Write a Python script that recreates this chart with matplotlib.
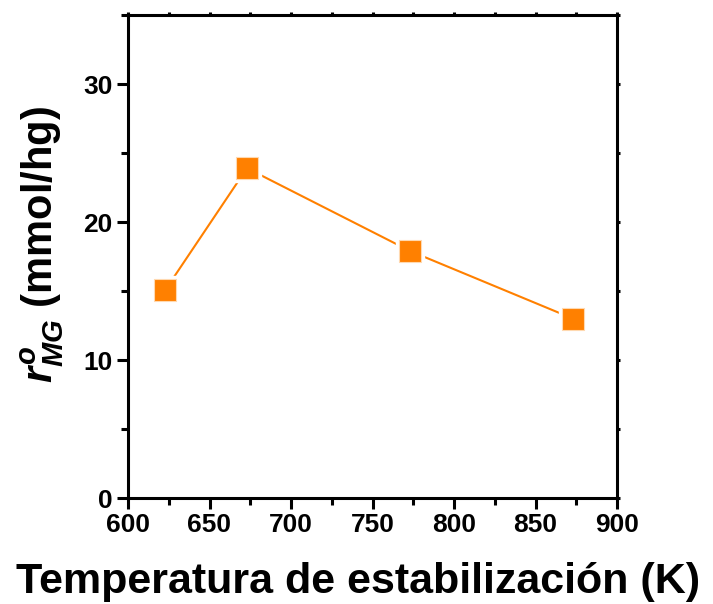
import matplotlib
matplotlib.use("Agg")
import matplotlib.pyplot as plt
from matplotlib.ticker import MultipleLocator

temps = [623, 673, 773, 873]
rates = [15.1, 23.9, 17.9, 13.0]
xticks = [600, 650, 700, 750, 800, 850, 900]
yticks = [0, 10, 20, 30]

plt.rcParams['font.family'] = ['Liberation Sans', 'DejaVu Sans']
plt.rcParams['font.weight'] = 'bold'
plt.rcParams['mathtext.fontset'] = 'custom'
plt.rcParams['mathtext.rm'] = 'Liberation Sans:bold'
plt.rcParams['mathtext.it'] = 'Liberation Sans:bold:italic'
plt.rcParams['mathtext.bf'] = 'Liberation Sans:bold'
plt.rcParams['mathtext.sf'] = 'Liberation Sans:italic'

fig = plt.figure(figsize=(7.13, 6.04), dpi=100)
ax = fig.add_axes([128/713, 106/604, (617-128)/713, (498-15)/604])

color = '#FF8000'
ax.plot(temps, rates, '-', color=color, lw=1.5, zorder=2)
ax.plot(temps, rates, 's', color='white', ms=20, mec='white', zorder=3, clip_on=False)
ax.plot(temps, rates, 's', color=color, ms=15.5, mec='#FFD9B0', mew=0.8, zorder=4, clip_on=False)

ax.set_xlim(600, 900)
ax.set_ylim(0, 35)
ax.set_xticks(xticks)
ax.set_yticks(yticks)
ax.xaxis.set_minor_locator(MultipleLocator(25))
ax.yaxis.set_minor_locator(MultipleLocator(5))

for s in ax.spines.values():
    s.set_linewidth(2.2)
ax.tick_params(which='major', direction='out', length=8, width=2.2, labelsize=19, pad=3)
ax.tick_params(which='minor', direction='out', length=5, width=2.2)
ax.tick_params(top=True, right=True, which='both')
for t in ax.xaxis.get_major_ticks() + ax.xaxis.get_minor_ticks():
    t.tick2line.set_markersize(2)
for t in ax.yaxis.get_major_ticks() + ax.yaxis.get_minor_ticks():
    t.tick2line.set_markersize(2)
for lab in ax.get_xticklabels() + ax.get_yticklabels():
    lab.set_fontweight('bold')

ax.set_xlabel('Temperatura de estabilización (K)', fontsize=31, fontweight='bold')
ax.xaxis.set_label_coords((358 - 128) / 489, -(562 - 498) / 483)
ax.set_ylabel(r'$r^{\mathsf{o}}_{MG}$ (mmol/hg)', fontsize=30, fontweight='bold')
ax.yaxis.set_label_coords((66 - 128) / 489, (498 - 245) / 483)

fig.savefig('out.png', dpi=100)
